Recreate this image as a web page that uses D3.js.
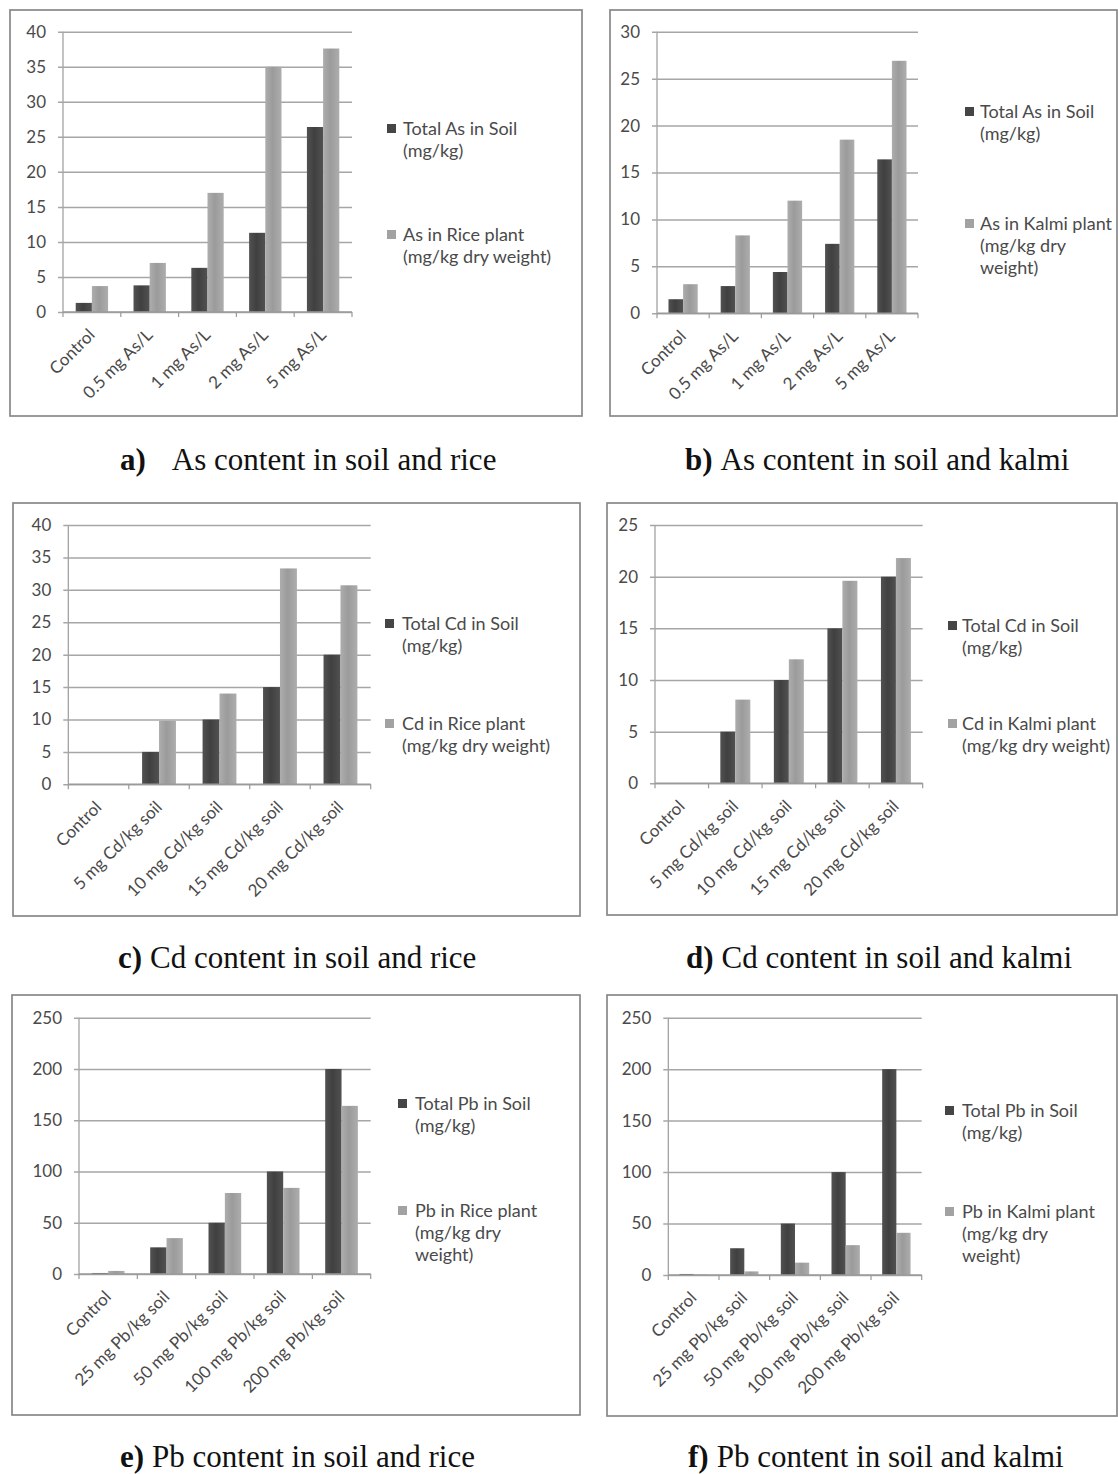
<!DOCTYPE html>
<html>
<head>
<meta charset="utf-8">
<script src="https://cdn.jsdelivr.net/npm/d3@7/dist/d3.min.js"></script>
<style>
  html, body { margin: 0; padding: 0; background: #fff; }
  svg { display: block; }
  .tick-label { font-family: Lato, "Open Sans", sans-serif; fill: #4a4a4a; }
  .legend-text { font-family: Lato, "Open Sans", sans-serif; fill: #4a4a4a; }
  .caption { font-family: "Liberation Serif", "Times New Roman", serif; fill: #111; }
</style>
</head>
<body>
<svg id="fig" width="1118" height="1474"></svg>
<script>
// Treatment categories
const catAs = ["Control", "0.5 mg As/L", "1 mg As/L", "2 mg As/L", "5 mg As/L"];
const catCd = ["Control", "5 mg Cd/kg soil", "10 mg Cd/kg soil", "15 mg Cd/kg soil", "20 mg Cd/kg soil"];
const catPb = ["Control", "25 mg Pb/kg soil", "50 mg Pb/kg soil", "100 mg Pb/kg soil", "200 mg Pb/kg soil"];

// Series values (mg/kg)
const asSoilRice  = [1.3, 3.8, 6.3, 11.3, 26.4];
const asRice      = [3.7, 7.0, 17.0, 35.0, 37.6];
const asSoilKalmi = [1.5, 2.9, 4.4, 7.4, 16.4];
const asKalmi     = [3.1, 8.3, 12.0, 18.5, 26.9];
const cdSoilRice  = [0, 5, 10, 15, 20];
const cdRice      = [0, 9.8, 14.0, 33.3, 30.7];
const cdSoilKalmi = [0, 5, 10, 15, 20];
const cdKalmi     = [0, 8.1, 12.0, 19.6, 21.8];
const pbSoilRice  = [1, 26, 50, 100, 200];
const pbRice      = [3, 35, 79, 84, 164];
const pbSoilKalmi = [1, 26, 50, 100, 200];
const pbKalmi     = [0.4, 3.5, 12, 29, 41];

// Y-axis tick values
const ticks40  = [0, 5, 10, 15, 20, 25, 30, 35, 40];
const ticks30  = [0, 5, 10, 15, 20, 25, 30];
const ticks25  = [0, 5, 10, 15, 20, 25];
const ticks250 = [0, 50, 100, 150, 200, 250];

// Legend entries (each line of a wrapped label)
const legAsRice  = [["Total As in Soil", "(mg/kg)"], ["As in Rice plant", "(mg/kg dry weight)"]];
const legAsKalmi = [["Total As in Soil", "(mg/kg)"], ["As in Kalmi plant", "(mg/kg dry", "weight)"]];
const legCdRice  = [["Total Cd in Soil", "(mg/kg)"], ["Cd in Rice plant", "(mg/kg dry weight)"]];
const legCdKalmi = [["Total Cd in Soil", "(mg/kg)"], ["Cd in Kalmi plant", "(mg/kg dry weight)"]];
const legPbRice  = [["Total Pb in Soil", "(mg/kg)"], ["Pb in Rice plant", "(mg/kg dry", "weight)"]];
const legPbKalmi = [["Total Pb in Soil", "(mg/kg)"], ["Pb in Kalmi plant", "(mg/kg dry", "weight)"]];

// Panel captions: bold letter, then title
const captionLetters = ["a)", "b)", "c)", "d)", "e)", "f)"];
const captionTitles = [
  "As content in soil and rice", "As content in soil and kalmi",
  "Cd content in soil and rice", "Cd content in soil and kalmi",
  "Pb content in soil and rice", "Pb content in soil and kalmi"
];

const seriesColors = ["#454545", "#a2a2a2"];

const svg = d3.select("#fig");

// Bar gradients for the shaded column style
const defs = svg.append("defs");
function makeGrad(id, edge, mid) {
  const g = defs.append("linearGradient").attr("id", id)
    .attr("x1", "0").attr("x2", "1").attr("y1", "0").attr("y2", "0");
  g.append("stop").attr("offset", "0%").attr("stop-color", edge);
  g.append("stop").attr("offset", "45%").attr("stop-color", mid);
  g.append("stop").attr("offset", "100%").attr("stop-color", edge);
}
makeGrad("gDark", "#515151", "#404040");
makeGrad("gLight", "#adadad", "#9b9b9b");
const fills = ["url(#gDark)", "url(#gLight)"];

const panels = [
  { box: [10, 10, 572, 406], plot: [63, 352, 31.7, 312], cats: catAs, series: [asSoilRice, asRice],
    ticks: ticks40, legend: legAsRice, leg: [387, 403, 135, 241], cap: [120, 470], gap: 26 },
  { box: [610, 10, 507, 406], plot: [657, 918, 31.7, 313.3], cats: catAs, series: [asSoilKalmi, asKalmi],
    ticks: ticks30, legend: legAsKalmi, leg: [965, 980, 118, 230], cap: [685, 470], gap: 8 },
  { box: [13, 503, 567, 413], plot: [68.3, 370.7, 525, 784.3], cats: catCd, series: [cdSoilRice, cdRice],
    ticks: ticks40, legend: legCdRice, leg: [385, 402, 630, 730], cap: [118, 968], gap: 8 },
  { box: [607, 503, 510, 412], plot: [655, 922.7, 525, 783.3], cats: catCd, series: [cdSoilKalmi, cdKalmi],
    ticks: ticks25, legend: legCdKalmi, leg: [948, 962, 632, 730], cap: [686, 968], gap: 8 },
  { box: [12, 995, 568, 420], plot: [79, 370.7, 1017.7, 1274], cats: catPb, series: [pbSoilRice, pbRice],
    ticks: ticks250, legend: legPbRice, leg: [398, 415, 1110, 1217], cap: [120, 1467], gap: 8 },
  { box: [607, 995, 510, 421], plot: [668.3, 921.7, 1017.7, 1275], cats: catPb, series: [pbSoilKalmi, pbKalmi],
    ticks: ticks250, legend: legPbKalmi, leg: [945, 962, 1117, 1218], cap: [688, 1467], gap: 8 }
];

panels.forEach((p, i) => {
  const [bx, by, bw, bh] = p.box;
  const [x0, x1, yTop, yBot] = p.plot;
  const g = svg.append("g");

  // Frame around the chart
  g.append("rect").attr("x", bx).attr("y", by).attr("width", bw).attr("height", bh)
    .attr("fill", "#fff").attr("stroke", "#888").attr("stroke-width", 1.7);

  const yMax = p.ticks[p.ticks.length - 1];
  const y = d3.scaleLinear().domain([0, yMax]).range([yBot, yTop]);
  const x = d3.scaleBand().domain(p.cats).range([x0, x1]).paddingInner(0.44).paddingOuter(0.22);
  const xs = d3.scaleBand().domain([0, 1]).range([0, x.bandwidth()]);

  // Horizontal gridlines + y axis
  const yAxis = d3.axisLeft(y).tickValues(p.ticks).tickSize(-(x1 - x0)).tickPadding(17);
  const ya = g.append("g").attr("transform", `translate(${x0},0)`).call(yAxis);
  ya.select(".domain").attr("stroke", "#9a9a9a").attr("stroke-width", 1.2)
    .attr("d", `M0,${yTop}V${yBot}`);
  ya.selectAll(".tick line").attr("stroke", "#a6a6a6").attr("stroke-width", 1.5).attr("x1", -5);
  ya.selectAll(".tick text").attr("class", "tick-label").attr("font-size", 17)
    .attr("font-family", null).attr("fill", null);

  // Bars
  p.series.forEach((vals, s) => {
    g.append("g").selectAll("rect").data(vals).join("rect")
      .attr("x", (d, k) => x(p.cats[k]) + xs(s))
      .attr("width", xs.bandwidth())
      .attr("y", d => y(d))
      .attr("height", d => yBot - y(d))
      .attr("fill", fills[s]);
  });

  // Category axis along zero
  const step = x.step();
  g.append("line").attr("x1", x0).attr("x2", x1).attr("y1", yBot).attr("y2", yBot)
    .attr("stroke", "#9a9a9a").attr("stroke-width", 1.4);
  g.append("g").selectAll("line").data(d3.range(p.cats.length + 1)).join("line")
    .attr("x1", k => x0 + k * step).attr("x2", k => x0 + k * step)
    .attr("y1", yBot).attr("y2", yBot + 5)
    .attr("stroke", "#9a9a9a").attr("stroke-width", 1.2);

  // Rotated category labels
  g.append("g").selectAll("text").data(p.cats).join("text")
    .attr("class", "tick-label")
    .attr("font-size", 17)
    .attr("text-anchor", "end")
    .attr("transform", c => `translate(${x(c) + x.bandwidth() / 2 + 4},${yBot + 24}) rotate(-45)`)
    .text(c => c);

  // Legend
  const [sqX, txX, base1, base2] = p.leg;
  [base1, base2].forEach((base, s) => {
    g.append("rect").attr("x", sqX).attr("y", base - 11).attr("width", 9).attr("height", 9)
      .attr("fill", seriesColors[s]);
    const t = g.append("text").attr("class", "legend-text").attr("font-size", 18)
      .attr("x", txX).attr("y", base);
    p.legend[s].forEach((line, li) => {
      t.append("tspan").attr("x", txX).attr("y", base + li * 22).text(line);
    });
  });

  // Caption under the chart
  const cap = svg.append("text").attr("class", "caption").attr("font-size", 31)
    .attr("x", p.cap[0]).attr("y", p.cap[1]);
  cap.append("tspan").attr("font-weight", "bold").text(captionLetters[i]);
  cap.append("tspan").attr("dx", p.gap).text(captionTitles[i]);
});
</script>
</body>
</html>
